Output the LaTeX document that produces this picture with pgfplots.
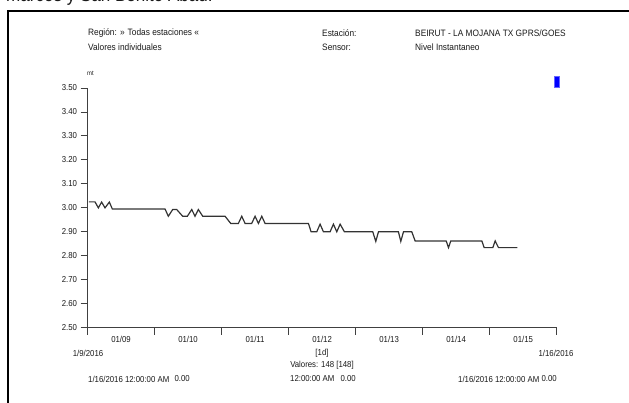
\documentclass[border=0pt]{standalone}
\usepackage{pgfplots}
\pgfplotsset{compat=1.18}
\usepackage{fontspec}
\setmainfont{Liberation Sans}[FakeStretch=0.9]
\definecolor{txt}{HTML}{1A1A1A}
\definecolor{axc}{HTML}{404040}
\definecolor{linec}{HTML}{333333}
\newcommand{\fs}{\fontsize{9.3}{10}\selectfont}
\newcommand{\ft}{\fontsize{8.7}{9}\selectfont}
\begin{document}
\begin{tikzpicture}
\clip (0bp,0bp) rectangle (629bp,403bp);
\fill[white] (0bp,0bp) rectangle (629bp,403bp);
\begin{scope}[x=1bp,y=1bp]
% cut-off caption above frame
\node[anchor=base west,inner sep=0pt,font=\fontsize{19}{20}\selectfont,txt] at (6,401.8) {marcos y San Benito Abad.};
% frame
\draw[line width=2.2bp,black] (7.8,-5) -- (7.8,392) -- (640,392);
% header
\node[anchor=west,inner sep=0pt,font=\fs,txt] at (88,370) {Región: » Todas estaciones «};
\node[anchor=west,inner sep=0pt,font=\fs,txt] at (88,356) {Valores individuales};
\node[anchor=west,inner sep=0pt,font=\fs,txt] at (322,370) {Estación:};
\node[anchor=west,inner sep=0pt,font=\fs,txt] at (322,356) {Sensor:};
\node[anchor=west,inner sep=0pt,font=\fs,txt] at (415,370) {BEIRUT - LA MOJANA TX GPRS/GOES};
\node[anchor=west,inner sep=0pt,font=\fs,txt] at (415,356) {Nivel Instantaneo};
\node[anchor=west,inner sep=0pt,font=\fontsize{6.5}{7}\selectfont,txt] at (87,330) {mt};
\fill[blue,draw=blue!60] (554,316) rectangle (559,327);
% bottom texts
\node[inner sep=0pt,font=\ft,txt] at (88,50) {1/9/2016};
\node[inner sep=0pt,font=\ft,txt] at (322,50) {[1d]};
\node[inner sep=0pt,font=\ft,txt] at (556,50) {1/16/2016};
\node[inner sep=0pt,font=\ft,txt] at (322,38) {Valores: 148 [148]};
\node[anchor=west,inner sep=0pt,font=\ft,txt] at (88,24) {1/16/2016 12:00:00 AM};
\node[anchor=east,inner sep=0pt,font=\ft,txt] at (190,24) {0.00};
\node[anchor=west,inner sep=0pt,font=\ft,txt] at (290,24) {12:00:00 AM};
\node[anchor=east,inner sep=0pt,font=\ft,txt] at (356,24) {0.00};
\node[anchor=west,inner sep=0pt,font=\ft,txt] at (458,24) {1/16/2016 12:00:00 AM};
\node[anchor=east,inner sep=0pt,font=\ft,txt] at (557,24) {0.00};
\end{scope}
\begin{axis}[
  at={(87.5bp,75.3bp)}, anchor=south west,
  scale only axis, width=469.2bp, height=239.7bp,
  xmin=0, xmax=7, ymin=2.5, ymax=3.5,
  axis lines*=left,
  axis line style={axc, line width=0.9bp},
  tick style={axc, line width=0.9bp},
  tick align=outside,
  major tick length=7bp,
  xtick={0,1,2,3,4,5,6,7},
  xticklabels={},
  extra x ticks={0.5,1.5,2.5,3.5,4.5,5.5,6.5},
  extra x tick labels={01/09,01/10,01/11,01/12,01/13,01/14,01/15},
  extra x tick style={major tick length=0pt, tick style={draw=none}},
  ytick={2.5,2.6,2.7,2.8,2.9,3.0,3.1,3.2,3.3,3.4,3.5},
  yticklabel style={/pgf/number format/.cd, fixed, fixed zerofill, precision=2},
  /pgf/number format/assume math mode=true,
  ticklabel style={font=\ft, text=txt},
  xticklabel style={yshift=-5bp},
  clip=false,
]
\addplot[linec, line width=1.2bp, mark=none] coordinates {
(0.02,3.025) (0.112,3.025) (0.162,3.000) (0.211,3.024) (0.261,3.000)
(0.326,3.024) (0.371,2.995) (1.157,2.995) (1.206,2.965) (1.271,2.993)
(1.331,2.993) (1.420,2.965) (1.490,2.965) (1.555,2.993) (1.604,2.965)
(1.654,2.993) (1.719,2.965) (2.052,2.965) (2.137,2.935) (2.251,2.935)
(2.301,2.965) (2.351,2.935) (2.450,2.935) (2.500,2.965) (2.550,2.935)
(2.600,2.965) (2.649,2.935) (3.296,2.935) (3.336,2.900) (3.420,2.900)
(3.470,2.932) (3.520,2.900) (3.619,2.900) (3.669,2.932) (3.719,2.900)
(3.769,2.932) (3.833,2.900) (4.256,2.900) (4.301,2.860) (4.341,2.900)
(4.639,2.900) (4.674,2.860) (4.714,2.900) (4.838,2.900) (4.888,2.862)
(5.351,2.862) (5.386,2.834) (5.420,2.862) (5.883,2.862) (5.918,2.834)
(6.047,2.834) (6.082,2.862) (6.132,2.834) (6.415,2.834)
};
\end{axis}
\end{tikzpicture}
\end{document}
